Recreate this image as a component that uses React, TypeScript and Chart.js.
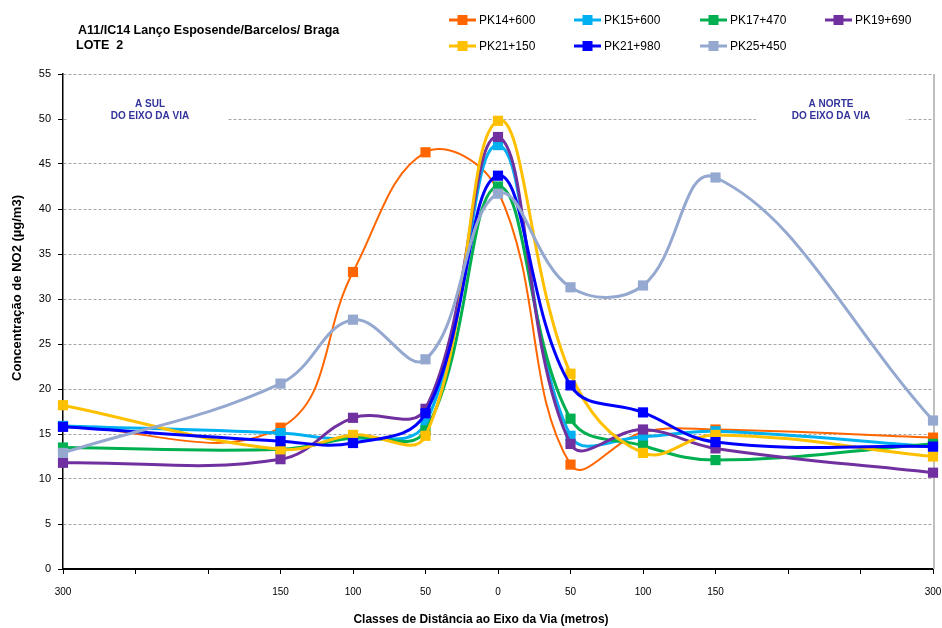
import React, { useEffect, useRef } from "react";
import { Chart, registerables } from "chart.js";

Chart.register(...registerables);

// ---- Data ----
const distances = [-300, -150, -100, -50, 0, 50, 100, 150, 300];
const xLabelValues = [-300, -150, -100, -50, 0, 50, 100, 150, 300];
const yTickMax = 55;
const yTickStep = 5;

const seriesNames = ["PK14+600", "PK15+600", "PK17+470", "PK19+690", "PK21+150", "PK21+980", "PK25+450"];
const seriesColors = ["#FF6600", "#00B0F0", "#00B050", "#7030A0", "#FFC000", "#0000FF", "#95A8D0"];

const pk14_600 = [15.8, 15.7, 33.0, 46.3, 42.0, 11.6, 15.2, 15.5, 14.6];
const pk15_600 = [15.9, 15.1, 14.5, 16.2, 47.1, 14.8, 14.7, 15.3, 13.6];
const pk17_470 = [13.5, 13.3, 14.6, 15.4, 42.5, 16.7, 13.7, 12.1, 13.9];
const pk19_690 = [11.8, 12.2, 16.8, 17.8, 48.0, 13.9, 15.5, 13.4, 10.7];
const pk21_150 = [18.2, 13.3, 14.9, 14.8, 49.8, 21.7, 12.9, 14.9, 12.5];
const pk21_980 = [15.8, 14.2, 14.0, 17.3, 43.7, 20.4, 17.4, 14.1, 13.6];
const pk25_450 = [12.9, 20.6, 27.7, 23.3, 41.7, 31.3, 31.5, 43.5, 16.5];

const seriesValues = [pk14_600, pk15_600, pk17_470, pk19_690, pk21_150, pk21_980, pk25_450];

const titleLines = ["A11/IC14 Lanço Esposende/Barcelos/ Braga", "LOTE  2"];
const yTitle = "Concentração de NO2 (µg/m3)";
const xTitle = "Classes de Distância ao Eixo da Via (metros)";
const leftNote = ["A SUL", "DO EIXO DA VIA"];
const rightNote = ["A NORTE", "DO EIXO DA VIA"];

const FONT = '"Liberation Sans", Arial, sans-serif';

const decorPlugin = {
  id: "decor",
  beforeDatasetsDraw(chart: any) {
    const ctx = chart.ctx;
    ctx.save();
    // white masks behind notes
    ctx.fillStyle = "#ffffff";
    ctx.fillRect(68, 95, 160, 28);
    ctx.fillRect(756, 95, 150, 28);
    // right border
    ctx.strokeStyle = "#BFBFBF";
    ctx.lineWidth = 2;
    ctx.beginPath();
    ctx.moveTo(chart.chartArea.right + 1, chart.chartArea.top);
    ctx.lineTo(chart.chartArea.right + 1, chart.chartArea.bottom);
    ctx.stroke();
    // notes
    ctx.fillStyle = "#333399";
    ctx.font = "bold 10px " + FONT;
    ctx.textAlign = "center";
    ctx.textBaseline = "middle";
    ctx.fillText(leftNote[0], 150, 104);
    ctx.fillText(leftNote[1], 150, 116);
    ctx.fillText(rightNote[0], 831, 104);
    ctx.fillText(rightNote[1], 831, 116);
    ctx.restore();
  },
  afterDraw(chart: any) {
    const ctx = chart.ctx;
    ctx.save();
    // title
    ctx.fillStyle = "#000";
    ctx.font = "bold 12.5px " + FONT;
    ctx.textAlign = "left";
    ctx.textBaseline = "middle";
    ctx.fillText(titleLines[0], 78, 31);
    ctx.fillText(titleLines[1], 76, 46);
    // axis titles
    ctx.font = "bold 12px " + FONT;
    ctx.textAlign = "center";
    ctx.fillText(xTitle, 481, 620);
    ctx.save();
    ctx.font = "bold 13px " + FONT;
    ctx.translate(17, 288);
    ctx.rotate(-Math.PI / 2);
    ctx.fillText(yTitle, 0, 0);
    ctx.restore();
    // legend
    const colX = [449, 574, 700, 825];
    const rowY = [20, 46];
    ctx.font = "12px " + FONT;
    ctx.textAlign = "left";
    seriesNames.forEach((name, i) => {
      const cx = colX[i % 4];
      const cy = rowY[Math.floor(i / 4)];
      ctx.strokeStyle = seriesColors[i];
      ctx.lineWidth = 3;
      ctx.beginPath();
      ctx.moveTo(cx, cy);
      ctx.lineTo(cx + 27, cy);
      ctx.stroke();
      ctx.fillStyle = seriesColors[i];
      ctx.fillRect(cx + 8.5, cy - 5, 10, 10);
      ctx.fillStyle = "#000";
      ctx.fillText(name, cx + 30, cy + 0.5);
    });
    ctx.restore();
  },
};

export default function App() {
  const ref = useRef<HTMLCanvasElement | null>(null);
  useEffect(() => {
    if (!ref.current) return;
    const datasets = seriesNames.map((name, i) => ({
      label: name,
      data: distances.map((d, k) => ({ x: d, y: seriesValues[i][k] })),
      borderColor: seriesColors[i],
      backgroundColor: seriesColors[i],
      borderWidth: i === 0 ? 2 : 3,
      pointStyle: "rect" as const,
      pointRadius: 7.2,
      pointBorderWidth: 0,
      pointBackgroundColor: seriesColors[i],
      tension: 0.4,
      order: seriesNames.length - i,
      fill: false,
      clip: false,
    }));
    const chart = new Chart(ref.current, {
      type: "line",
      data: { datasets },
      plugins: [decorPlugin],
      options: {
        animation: false,
        responsive: false,
        devicePixelRatio: 1,
        layout: { padding: { top: 74, right: 9, left: 0, bottom: 0 } },
        plugins: { legend: { display: false }, tooltip: { enabled: false }, title: { display: false } },
        scales: {
          x: {
            type: "linear",
            min: -300,
            max: 300,
            afterFit: (s: any) => {
              s.height = 59;
              s.paddingLeft = 0;
              s.paddingRight = 0;
            },
            afterBuildTicks: (s: any) => {
              const t = [];
              for (let v = -300; v <= 300; v += 50) t.push({ value: v });
              s.ticks = t;
            },
            ticks: {
              autoSkip: false,
              maxRotation: 0,
              padding: 12,
              color: "#000",
              font: { family: FONT, size: 10 },
              callback: (v: any) => (xLabelValues.includes(Number(v)) ? String(Math.abs(Number(v))) : ""),
            },
            grid: { drawOnChartArea: false, drawTicks: true, tickLength: 5, color: "#000", tickColor: "#000" },
            border: { display: true, color: "#000", width: 2 },
          },
          y: {
            type: "linear",
            min: 0,
            max: yTickMax,
            afterFit: (s: any) => {
              s.width = 63;
              s.paddingTop = 0;
              s.paddingBottom = 0;
            },
            ticks: {
              stepSize: yTickStep,
              padding: 7,
              color: "#000",
              font: { family: FONT, size: 11 },
            },
            grid: { color: "#A6A6A6", tickColor: "#000", tickLength: 5, lineWidth: 1 },
            border: { display: true, color: "#000", width: 1.5, dash: [3, 2] },
          },
        },
      },
    } as any);
    return () => chart.destroy();
  }, []);
  return (
    <div style={{ position: "absolute", left: 0, top: 0, width: 942, height: 628, background: "#fff" }}>
      <canvas ref={ref} width={942} height={628} style={{ display: "block", width: 942, height: 628 }} />
    </div>
  );
}
